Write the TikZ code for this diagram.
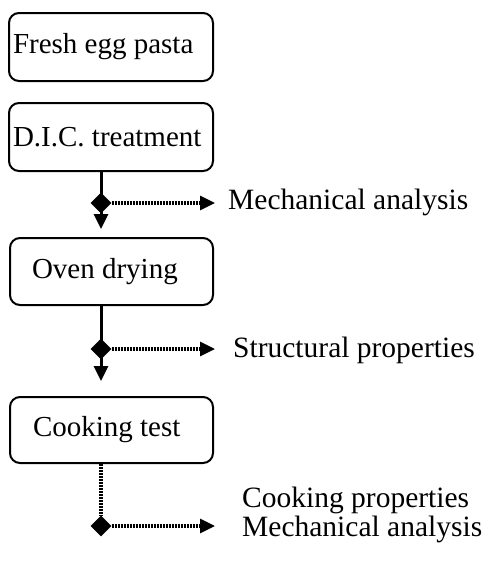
\documentclass[tikz,border=0pt]{standalone}
\usepackage{fontspec}
\setmainfont{Liberation Serif}
\usetikzlibrary{arrows.meta,shapes.geometric,backgrounds}
\tikzset{
  natspace/.style={execute at begin node={\spaceskip=0pt\xspaceskip=0pt\relax}},
  box/.style={draw, line width=2pt, rounded corners=10pt, minimum height=68pt, inner ysep=0pt, align=left, natspace, font=\fontsize{29}{29}\selectfont},
  lbl/.style={anchor=west, inner ysep=0pt, align=left, natspace, font=\fontsize{29.5}{29}\selectfont},
  dia/.style={diamond, fill=black, draw=none, minimum width=21pt, minimum height=21pt, inner sep=0pt},
  solidarrow/.style={line width=3pt, -{Triangle[length=15pt,width=14pt]}},
  dotline/.style={line width=3.2pt, dash pattern=on 2.2pt off 0.8pt},
  dotarrow/.style={dotline, -{Triangle[length=15pt,width=14pt]}},
}
\begin{document}
\begin{tikzpicture}[x=1pt,y=-1pt]
\useasboundingbox (0,0) rectangle (493,563);
% boxes
\node[box, minimum width=204pt, inner xsep=4pt, text width=196pt] (b1) at (111,47) {Fresh egg pasta};
\node[box, minimum width=204pt, inner xsep=4pt, text width=196pt] (b2) at (111,137) {D.I.C. treatment};
\node[box, minimum width=203pt, inner xsep=22pt, text width=159pt, minimum height=67pt] (b3) at (111.5,271.5) {Oven drying};
\node[box, minimum width=203pt, inner xsep=23pt, text width=157pt, minimum height=66pt] (b4) at (111.5,430) {Cooking test};
% diamonds
\node[dia] (d1) at (101,203) {};
\node[dia] (d2) at (101,349) {};
\node[dia] (d3) at (101,526) {};
% labels
\node[lbl, inner xsep=13pt] (t1) at (215,202) {Mechanical analysis};
\node[lbl, inner xsep=18pt] (t2) at (215,350) {Structural properties};
\node[lbl, inner xsep=27pt] (t3) at (215,515) {Cooking properties\\Mechanical analysis};
% connectors
\begin{scope}[on background layer]
\draw[solidarrow, shorten >=8pt] (b2.south -| d1) -- (b3.north -| d1);
\draw[solidarrow, shorten >=15pt] (b3.south -| d2) -- (b4.north -| d2);
\draw[dotline] (b4.south -| d3) -- (d3.north);
\draw[dotarrow] (d1.east) -- (d1 -| t1.west);
\draw[dotarrow] (d2.east) -- (d2 -| t2.west);
\draw[dotarrow] (d3.east) -- (d3 -| t3.west);
\end{scope}
\end{tikzpicture}
\end{document}
